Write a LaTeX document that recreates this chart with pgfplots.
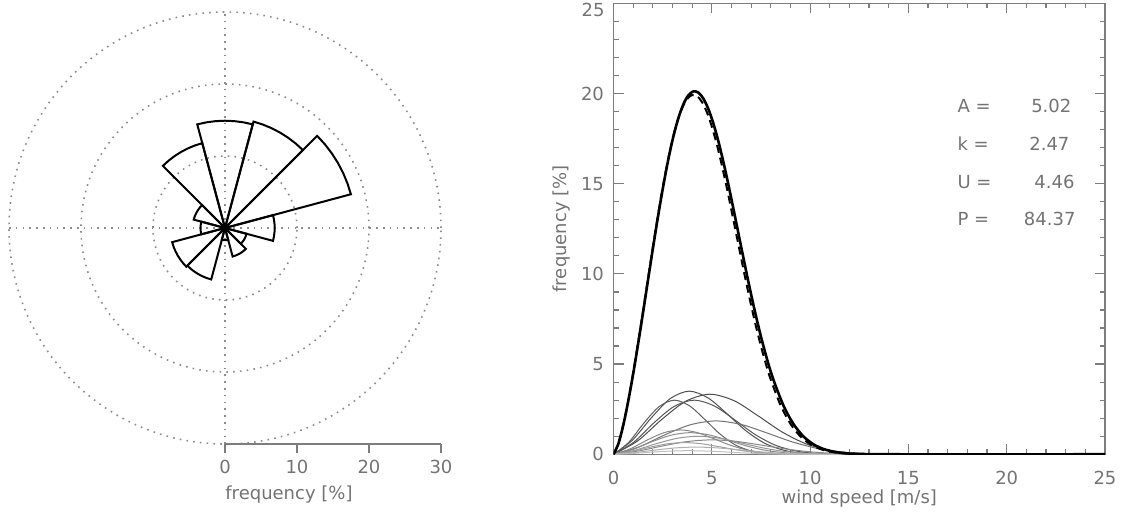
\documentclass[border=0pt]{standalone}
\usepackage{pgfplots}
\pgfplotsset{compat=1.18}
\usepackage{fontspec}
\setmainfont{DejaVu Sans}
\definecolor{txtgray}{RGB}{115,115,115}
\definecolor{axgray}{RGB}{125,125,125}
\definecolor{dotgray}{RGB}{140,140,140}
\begin{document}
\begin{tikzpicture}[font=\fontsize{9}{11}\selectfont]
\useasboundingbox (0,0) rectangle (562.5pt,257pt);
% ---------------- wind rose ----------------
\begin{axis}[at={(112.5pt,143pt)}, anchor=center, scale only axis,
  width=216pt, height=216pt, xmin=-30, xmax=30, ymin=-30, ymax=30,
  hide axis, clip=false,
  wedge/.style={black, solid, no markers, line width=1pt, line join=miter, data cs=polar}]
\draw[dotgray, line width=0.8pt, dash pattern=on 0.8pt off 2.6pt] (axis cs:0,0) circle[radius=36pt];
\draw[dotgray, line width=0.8pt, dash pattern=on 0.8pt off 2.6pt] (axis cs:0,0) circle[radius=72pt];
\draw[dotgray, line width=0.8pt, dash pattern=on 0.8pt off 2.6pt] (axis cs:0,0) circle[radius=108pt];
\draw[dotgray, line width=0.8pt, dash pattern=on 0.8pt off 2.6pt] (axis cs:-30,0) -- (axis cs:30,0);
\draw[dotgray, line width=0.8pt, dash pattern=on 0.8pt off 2.6pt] (axis cs:0,-30) -- (axis cs:0,30);
% N
\addplot[wedge] coordinates {(0,0) (75,14.9) (80,14.9) (85,14.9) (90,14.9) (95,14.9) (100,14.9) (105,14.9) (0,0)};
% 30
\addplot[wedge] coordinates {(0,0) (45,15.3) (50,15.3) (55,15.3) (60,15.3) (65,15.3) (70,15.3) (75,15.3) (0,0)};
% 60
\addplot[wedge] coordinates {(0,0) (15,18.1) (20,18.1) (25,18.1) (30,18.1) (35,18.1) (40,18.1) (45,18.1) (0,0)};
% 90
\addplot[wedge] coordinates {(0,0) (-15,6.9) (-10,6.9) (-5,6.9) (0,6.9) (5,6.9) (10,6.9) (15,6.9) (0,0)};
% 120
\addplot[wedge] coordinates {(0,0) (-45,3.1) (-40,3.1) (-35,3.1) (-30,3.1) (-25,3.1) (-20,3.1) (-15,3.1) (0,0)};
% 150
\addplot[wedge] coordinates {(0,0) (-75,4.1) (-70,4.1) (-65,4.1) (-60,4.1) (-55,4.1) (-50,4.1) (-45,4.1) (0,0)};
% 180
\addplot[wedge] coordinates {(0,0) (-105,1.7) (-100,1.7) (-95,1.7) (-90,1.7) (-85,1.7) (-80,1.7) (-75,1.7) (0,0)};
% 210
\addplot[wedge] coordinates {(0,0) (-135,7.4) (-130,7.4) (-125,7.4) (-120,7.4) (-115,7.4) (-110,7.4) (-105,7.4) (0,0)};
% 240
\addplot[wedge] coordinates {(0,0) (-165,7.6) (-160,7.6) (-155,7.6) (-150,7.6) (-145,7.6) (-140,7.6) (-135,7.6) (0,0)};
% 270
\addplot[wedge] coordinates {(0,0) (165,3.4) (170,3.4) (175,3.4) (180,3.4) (185,3.4) (190,3.4) (195,3.4) (0,0)};
% 300
\addplot[wedge] coordinates {(0,0) (135,4.5) (140,4.5) (145,4.5) (150,4.5) (155,4.5) (160,4.5) (165,4.5) (0,0)};
% 330
\addplot[wedge] coordinates {(0,0) (105,12.2) (110,12.2) (115,12.2) (120,12.2) (125,12.2) (130,12.2) (135,12.2) (0,0)};
\addplot[black, only marks, mark=*, mark size=1.8pt] coordinates {(0,0)};
\end{axis}
% ---------------- frequency scale ----------------
\begin{axis}[at={(112.5pt,35pt)}, anchor=south west, scale only axis,
  width=108pt, height=10pt, xmin=0, xmax=30, ymin=0, ymax=1,
  axis x line*=bottom, axis y line=none,
  xtick={0,10,20,30}, xtick pos=bottom, tick align=outside, major tick length=4.5pt,
  axis line style={axgray, line width=0.7pt}, tick style={axgray, line width=0.7pt},
  /pgf/number format/assume math mode=true,
  xticklabel style={text=txtgray, font=\fontsize{9}{11}\selectfont},
  xlabel={frequency [\%]},
  xlabel style={at={(axis description cs:0,-2.55)}, anchor=west, inner sep=0pt, text=txtgray}]
\addplot[draw=none] coordinates {(0,0)};
\end{axis}
% ---------------- weibull ----------------
\begin{axis}[at={(306.75pt,29.85pt)}, anchor=south west, scale only axis,
  width=245.75pt, height=225.5pt, xmin=0, xmax=25, ymin=0, ymax=25,
  xtick={0,5,10,15,20,25}, ytick={0,5,10,15,20,25},
  yticklabels={0,5,10,15,20,{}},
  minor x tick num=4, minor y tick num=4,
  tick align=inside, major tick length=5pt, minor tick length=2.5pt,
  axis line style={axgray, line width=0.7pt}, tick style={axgray, line width=0.6pt},
  /pgf/number format/assume math mode=true,
  ticklabel style={text=txtgray, font=\fontsize{9}{11}\selectfont},
  xticklabel style={yshift=-4.9pt}, yticklabel style={xshift=-1.25pt},
  xlabel={wind speed [m/s]}, ylabel={frequency [\%]},
  xlabel style={at={(axis description cs:0.5,-0.0971)}, anchor=center, text=txtgray},
  ylabel style={at={(axis description cs:-0.1054,0.5)}, anchor=center, text=txtgray},
  clip mode=individual]
\addplot[smooth, color={rgb,255:red,80;green,80;blue,80}, line width=0.5pt] coordinates {(0,0) (0.96,0.782) (1.93,2.028) (2.89,3.092) (3.85,3.50) (4.81,3.125) (5.78,2.242) (6.74,1.299) (7.70,0.606) (8.66,0.226) (9.63,0.067) (11.55,0.003) (14,0)};
\addplot[smooth, color={rgb,255:red,75;green,75;blue,75}, line width=0.5pt] coordinates {(0,0) (1.23,0.744) (2.45,1.929) (3.68,2.942) (4.90,3.33) (6.13,2.973) (7.35,2.134) (8.58,1.235) (9.80,0.576) (11.03,0.215) (12.25,0.064) (14.70,0.003) (16,0)};
\addplot[smooth, color={rgb,255:red,95;green,95;blue,95}, line width=0.5pt] coordinates {(0,0) (0.78,0.671) (1.55,1.738) (2.33,2.651) (3.10,3.0) (3.88,2.678) (4.65,1.922) (5.43,1.113) (6.20,0.519) (6.98,0.194) (7.75,0.058) (9.30,0.002) (11,0)};
\addplot[smooth, color={rgb,255:red,85;green,85;blue,85}, line width=0.5pt] coordinates {(0,0) (1.03,0.671) (2.05,1.738) (3.08,2.651) (4.10,3.0) (5.13,2.678) (6.15,1.922) (7.18,1.113) (8.20,0.519) (9.23,0.194) (10.25,0.058) (12.30,0.002) (14,0)};
\addplot[smooth, color={rgb,255:red,115;green,115;blue,115}, line width=0.5pt] coordinates {(0,0) (1.30,0.413) (2.60,1.072) (3.90,1.634) (5.20,1.85) (6.50,1.652) (7.80,1.185) (9.10,0.686) (10.40,0.320) (11.70,0.120) (13.00,0.036) (15.60,0.001) (17,0)};
\addplot[smooth, color={rgb,255:red,135;green,135;blue,135}, line width=0.5pt] coordinates {(0,0) (0.85,0.302) (1.70,0.782) (2.55,1.193) (3.40,1.35) (4.25,1.205) (5.10,0.865) (5.95,0.501) (6.80,0.234) (7.65,0.087) (8.50,0.026) (10.20,0.001) (12,0)};
\addplot[smooth, color={rgb,255:red,140;green,140;blue,140}, line width=0.5pt] coordinates {(0,0) (0.98,0.268) (1.95,0.695) (2.93,1.060) (3.90,1.2) (4.88,1.071) (5.85,0.769) (6.83,0.445) (7.80,0.208) (8.78,0.078) (9.75,0.023) (11.70,0.001) (13,0)};
\addplot[smooth, color={rgb,255:red,150;green,150;blue,150}, line width=0.5pt] coordinates {(0,0) (1.08,0.224) (2.15,0.579) (3.23,0.884) (4.30,1.0) (5.38,0.893) (6.45,0.641) (7.53,0.371) (8.60,0.173) (9.68,0.065) (10.75,0.019) (12.90,0.001) (14,0)};
\addplot[smooth, color={rgb,255:red,135;green,135;blue,135}, line width=0.5pt] coordinates {(0,0) (1.25,0.179) (2.50,0.464) (3.75,0.707) (5.00,0.8) (6.25,0.714) (7.50,0.513) (8.75,0.297) (10.00,0.138) (11.25,0.052) (12.50,0.015) (15.00,0.001) (16,0)};
\addplot[smooth, color={rgb,255:red,160;green,160;blue,160}, line width=0.5pt] coordinates {(0,0) (0.90,0.145) (1.80,0.377) (2.70,0.574) (3.60,0.65) (4.50,0.580) (5.40,0.416) (6.30,0.241) (7.20,0.112) (8.10,0.042) (9.00,0.012) (10.80,0.001) (12,0)};
\addplot[smooth, color={rgb,255:red,175;green,175;blue,175}, line width=0.5pt] coordinates {(0,0) (1.05,0.089) (2.10,0.232) (3.15,0.353) (4.20,0.4) (5.25,0.357) (6.30,0.256) (7.35,0.148) (8.40,0.069) (9.45,0.026) (10.50,0.008) (12.60,0)};
\addplot[smooth, color={rgb,255:red,190;green,190;blue,190}, line width=0.5pt] coordinates {(0,0) (0.95,0.045) (1.90,0.116) (2.85,0.177) (3.80,0.2) (4.75,0.179) (5.70,0.128) (6.65,0.074) (7.60,0.035) (8.55,0.013) (9.50,0.004) (11.40,0)};
% observed total
\addplot[smooth, black, line width=1.3pt] coordinates {(0,0) (0.254,0.604) (0.508,1.669) (0.761,3.010) (1.015,4.553) (1.269,6.236) (1.523,8.000) (1.776,9.803) (2.030,11.589) (2.284,13.309) (2.538,14.914) (2.791,16.363) (3.045,17.615) (3.299,18.636) (3.553,19.402) (3.806,19.897) (4.060,20.115) (4.314,20.054) (4.568,19.725) (4.821,19.151) (5.075,18.354) (5.329,17.372) (5.583,16.234) (5.836,14.986) (6.090,13.659) (6.344,12.301) (6.598,10.943) (6.851,9.613) (7.105,8.343) (7.359,7.150) (7.613,6.052) (7.866,5.059) (8.120,4.178) (8.628,2.741) (9.135,1.708) (9.643,1.010) (10.150,0.568) (10.658,0.302) (11.165,0.152) (11.673,0.073) (12.180,0.032) (13.195,0.005) (14.21,0) (25,0)};
% Weibull fit
\addplot[smooth, black, line width=1pt, dash pattern=on 4pt off 2.5pt] coordinates {(0,0) (0.25,0.598) (0.5,1.652) (0.75,2.980) (1,4.508) (1.25,6.174) (1.5,7.921) (1.75,9.706) (2,11.474) (2.25,13.177) (2.5,14.766) (2.75,16.201) (3,17.441) (3.25,18.451) (3.5,19.210) (3.75,19.700) (4,19.916) (4.25,19.855) (4.5,19.530) (4.75,18.961) (5,18.172) (5.25,17.200) (5.5,16.073) (5.75,14.838) (6,13.524) (6.25,12.179) (6.5,10.835) (6.75,9.518) (7,8.260) (7.25,7.079) (7.5,5.992) (7.75,5.009) (8,4.137) (8.5,2.714) (9,1.691) (9.5,1.000) (10,0.562) (10.5,0.299) (11,0.150) (11.5,0.072) (12,0.032) (13,0.005) (14,0) (25,0)};
\node[anchor=east, inner sep=0pt, text=txtgray, xshift=-4.25pt, yshift=-3.4pt] at (axis cs:0,25) {25};
\node[anchor=west, inner sep=0pt, text=txtgray] at (axis cs:17.48,19.31) {A =};
\node[anchor=east, inner sep=0pt, text=txtgray] at (axis cs:23.31,19.31) {5.02};
\node[anchor=west, inner sep=0pt, text=txtgray] at (axis cs:17.48,17.20) {k =};
\node[anchor=east, inner sep=0pt, text=txtgray] at (axis cs:23.21,17.20) {2.47};
\node[anchor=west, inner sep=0pt, text=txtgray] at (axis cs:17.48,15.11) {U =};
\node[anchor=east, inner sep=0pt, text=txtgray] at (axis cs:23.47,15.11) {4.46};
\node[anchor=west, inner sep=0pt, text=txtgray] at (axis cs:17.48,13.03) {P =};
\node[anchor=east, inner sep=0pt, text=txtgray] at (axis cs:23.52,13.03) {84.37};
\end{axis}
\end{tikzpicture}
\end{document}
